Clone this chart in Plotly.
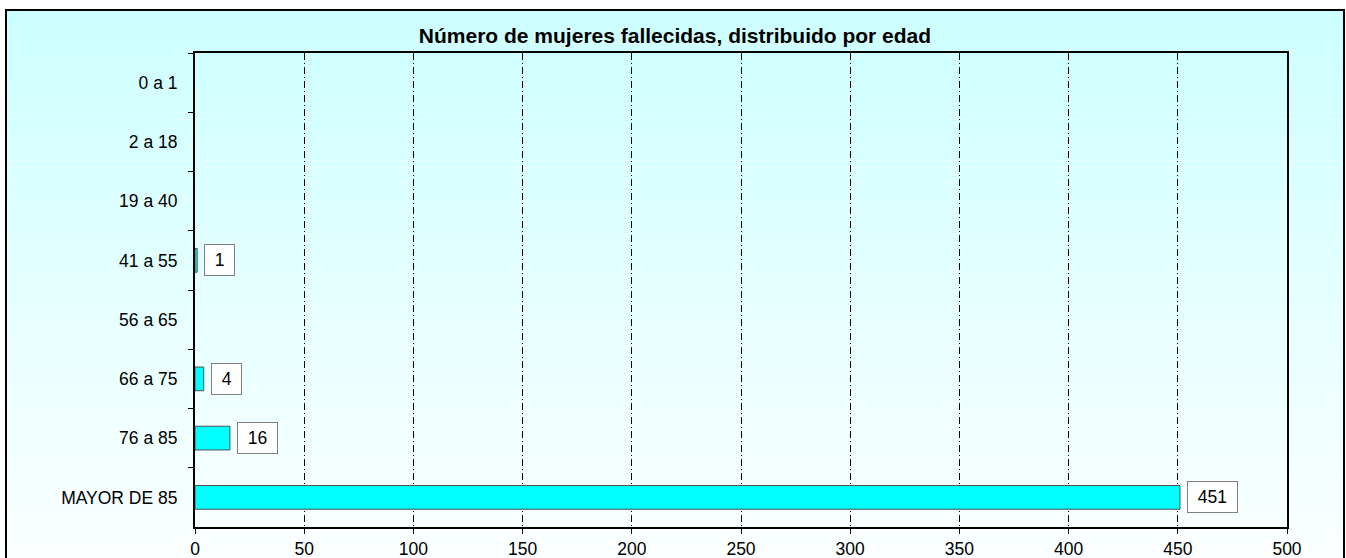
import plotly.graph_objects as go

# datos
edades = ['0 a 1', '2 a 18', '19 a 40', '41 a 55', '56 a 65', '66 a 75', '76 a 85', 'MAYOR DE 85']
fallecidas = [0, 0, 0, 1, 0, 4, 16, 451]
x_ticks = [0, 50, 100, 150, 200, 250, 300, 350, 400, 450, 500]

titulo = 'Número de mujeres fallecidas, distribuido por edad'
fuente = 'Liberation Sans, Arial, sans-serif'

W, H = 1346, 558
L, R, T, B = 195, 1287, 53, 527  # area de trazado en pixeles


def px(xp):
    return (xp - L) / (R - L)


def py(yp):
    return (B - yp) / (B - T)


fig = go.Figure()
fig.add_trace(go.Bar(
    x=fallecidas, y=edades, orientation='h', width=0.4,
    marker=dict(color='#00FFFF',
                line=dict(color='#505050', width=[1 if v else 0 for v in fallecidas])),
    hoverinfo='x+y',
))

# etiquetas con recuadro blanco
for e, v in zip(edades, fallecidas):
    if v > 0:
        fig.add_annotation(
            x=v, y=e, text='\u00a0' + str(v) + '\u00a0', showarrow=False,
            xanchor='left', xshift=7, bgcolor='white', bordercolor='#808080',
            borderwidth=1, borderpad=5, font=dict(family=fuente, size=17.5, color='black'),
        )

# fondo degradado cian -> blanco
shapes = []
n = 80
y_top, y_bot = 9, 560
for i in range(n):
    y0 = y_top + (y_bot - y_top) * i / n
    y1 = y_top + (y_bot - y_top) * (i + 1) / n
    t = (i + 0.5) / n
    r = int(204 + (252 - 204) * t)
    shapes.append(dict(type='rect', xref='paper', yref='paper', layer='below',
                       x0=px(5), x1=px(1344), y0=py(y1), y1=py(y0),
                       fillcolor='rgb(%d,255,255)' % r, line=dict(width=0)))
# marco exterior
shapes.append(dict(type='rect', xref='paper', yref='paper', layer='above',
                   x0=px(6), x1=px(1344), y0=py(575), y1=py(10),
                   fillcolor='rgba(0,0,0,0)', line=dict(color='black', width=2)))

fig.update_layout(
    width=W, height=H,
    margin=dict(l=L, r=W - R, t=T, b=H - B),
    paper_bgcolor='white', plot_bgcolor='rgba(0,0,0,0)',
    showlegend=False,
    font=dict(family=fuente, size=17.5, color='black'),
    title=dict(text='<b>' + titulo + '</b>', x=675 / W, xanchor='center',
               y=1 - 36 / H, yanchor='middle', yref='container', automargin=False,
               font=dict(family=fuente, size=21, color='black')),
    shapes=shapes,
)
fig.update_xaxes(
    range=[0, 500], tickvals=x_ticks, showgrid=True, gridcolor='black', gridwidth=1,
    griddash='7px,3px,1px,3px', showline=True, linecolor='black', linewidth=2,
    mirror=True, ticks='outside', ticklen=5, tickcolor='black', zeroline=False,
    fixedrange=True, automargin=False,
)
fig.update_yaxes(
    categoryorder='array', categoryarray=edades, autorange='reversed',
    showgrid=False, showline=True, linecolor='black', linewidth=2, mirror=True,
    ticks='outside', tickson='boundaries', ticklen=5, tickcolor='black',
    ticklabelstandoff=12, fixedrange=True, automargin=False,
)

fig.write_html('out.html', config={'displayModeBar': False},
               post_script="document.body.style.margin='0';")
